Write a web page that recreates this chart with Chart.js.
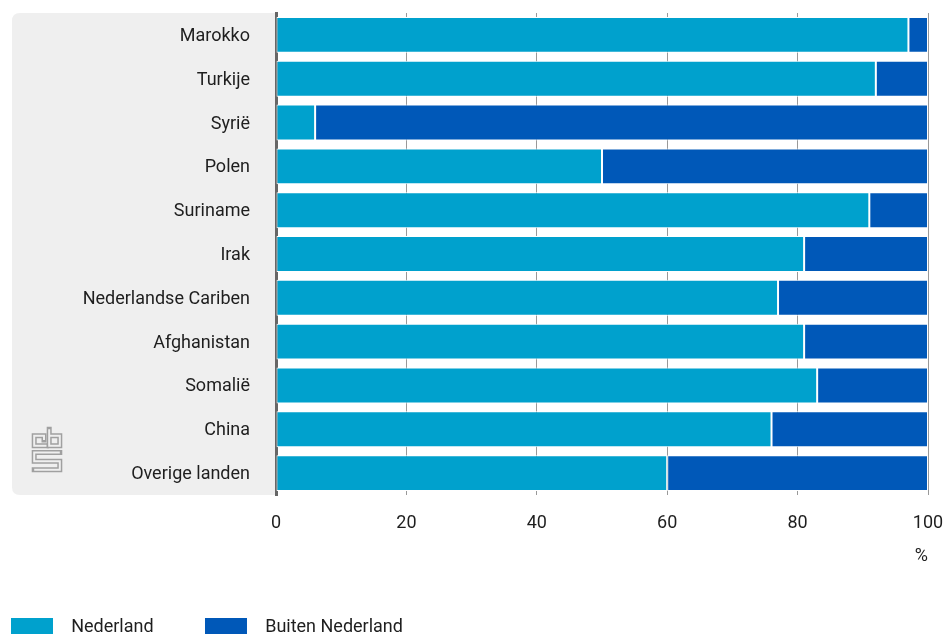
<!DOCTYPE html>
<html>
<head>
<meta charset="utf-8">
<script src="https://cdn.jsdelivr.net/npm/chart.js@4/dist/chart.umd.min.js"></script>
<style>
  html, body { margin: 0; padding: 0; background: #ffffff; overflow: hidden; }
  #wrap { width: 945px; height: 634px; overflow: hidden; }
</style>
</head>
<body>
<div id="wrap"><canvas id="c" width="945" height="646"></canvas></div>
<script>
const categories = ['Marokko', 'Turkije', 'Syrië', 'Polen', 'Suriname', 'Irak',
  'Nederlandse Cariben', 'Afghanistan', 'Somalië', 'China', 'Overige landen'];
const nederland = [97, 92, 6, 50, 91, 81, 77, 81, 83, 76, 60];
const buitenNederland = [3, 8, 94, 50, 9, 19, 23, 19, 17, 24, 40];
const seriesNames = ['Nederland', 'Buiten Nederland'];
const xTicks = [0, 20, 40, 60, 80, 100];
const unitLabel = '%';

const PANEL_BG = '#efefef';
const TEXT = '#1e1e1e';
const FONT = 'Roboto';

const panelPlugin = {
  id: 'panel',
  beforeDraw(chart) {
    const ctx = chart.ctx;
    const a = chart.chartArea;
    const x0 = 12, x1 = a.left, y0 = a.top, y1 = a.bottom, r = 8;
    ctx.save();
    ctx.fillStyle = PANEL_BG;
    ctx.beginPath();
    ctx.moveTo(x1, y0);
    ctx.lineTo(x0 + r, y0);
    ctx.quadraticCurveTo(x0, y0, x0, y0 + r);
    ctx.lineTo(x0, y1 - r);
    ctx.quadraticCurveTo(x0, y1, x0 + r, y1);
    ctx.lineTo(x1, y1);
    ctx.closePath();
    ctx.fill();
    // logo
    const paths = [
      [[44, 440], [44, 435.8], [34.2, 435.8], [34.2, 445.8], [46.5, 445.8]],
      [[49.2, 429.2], [49.2, 445.8], [59.8, 445.8], [59.8, 435.8], [49.2, 435.8]],
      [[59.8, 452.5], [34.2, 452.5], [34.2, 461.2], [59.8, 461.2], [59.8, 469.8], [34.2, 469.8]]
    ];
    ctx.lineJoin = 'miter';
    const strokeAll = (w, col, cap) => {
      ctx.lineWidth = w; ctx.strokeStyle = col; ctx.lineCap = cap;
      paths.forEach(p => {
        ctx.beginPath();
        ctx.moveTo(p[0][0], p[0][1]);
        for (let i = 1; i < p.length; i++) ctx.lineTo(p[i][0], p[i][1]);
        ctx.stroke();
      });
    };
    strokeAll(5, '#a0a0a0', 'square');
    strokeAll(2, PANEL_BG, 'butt');
    ctx.restore();
  }
};

new Chart(document.getElementById('c'), {
  type: 'bar',
  data: {
    labels: categories,
    datasets: [
      { label: seriesNames[0], data: nederland, backgroundColor: '#00a1cd',
        borderColor: '#ffffff', borderWidth: 1, borderSkipped: false },
      { label: seriesNames[1], data: buitenNederland, backgroundColor: '#0058b8',
        borderColor: '#ffffff', borderWidth: 1, borderSkipped: false }
    ]
  },
  options: {
    indexAxis: 'y',
    responsive: false,
    animation: false,
    devicePixelRatio: 1,
    datasets: { bar: { barPercentage: 0.82, categoryPercentage: 1 } },
    layout: { padding: { top: 13, right: 17, bottom: 0, left: 0 } },
    scales: {
      x: {
        stacked: true,
        min: 0, max: 100,
        afterBuildTicks(scale) { scale.ticks = xTicks.map(v => ({ value: v })); },
        grid: { color: '#999999', lineWidth: 1, drawTicks: false },
        border: { display: false },
        ticks: { font: { family: FONT, size: 18 }, color: TEXT, padding: 18 },
        title: { display: true, text: unitLabel, align: 'end',
                 font: { family: FONT, size: 18 }, color: TEXT,
                 padding: { top: 14, bottom: 40 } },
        afterFit(scale) {
          scale.height = 112;
          scale.paddingLeft = 0; scale.paddingRight = 0;
          scale.paddingTop = 0; scale.paddingBottom = 0;
        }
      },
      y: {
        stacked: true,
        z: 1,
        grid: { display: false },
        border: { display: true, color: '#666666', width: 3 },
        ticks: { font: { family: FONT, size: 18 }, color: TEXT, padding: 18, labelOffset: 1.5 },
        afterFit(scale) {
          scale.width = 276;
          scale.paddingTop = 0; scale.paddingBottom = 0;
          scale.paddingLeft = 0; scale.paddingRight = 0;
        }
      }
    },
    plugins: {
      tooltip: { enabled: false },
      legend: {
        position: 'bottom',
        align: 'start',
        labels: {
          font: { family: FONT, size: 18 },
          color: TEXT,
          boxWidth: 42,
          boxHeight: 18,
          padding: 11,
          generateLabels(chart) {
            const items = Chart.defaults.plugins.legend.labels.generateLabels(chart);
            items.forEach((it, i) => {
              it.lineWidth = 0;
              it.text = '\u2002' + it.text + (i === 0 ? '\u2002\u2002\u2002\u2002\u2009' : '');
            });
            return items;
          }
        }
      }
    }
  },
  plugins: [panelPlugin]
});
</script>
</body>
</html>
